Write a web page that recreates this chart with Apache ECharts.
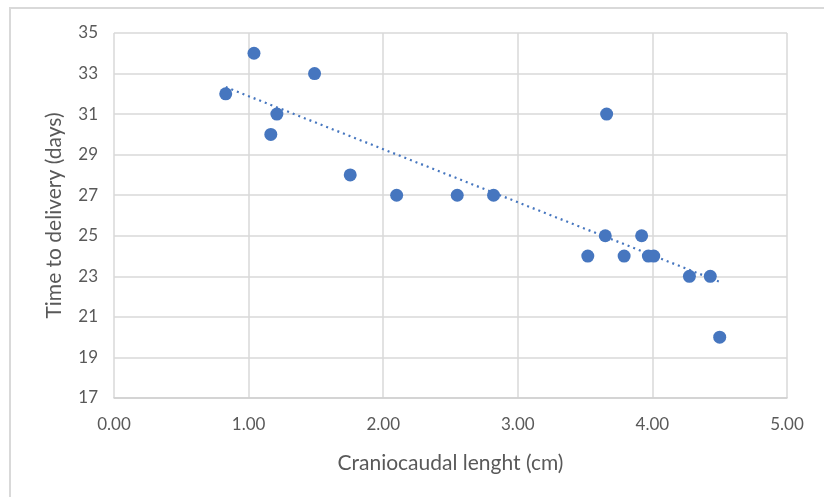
<!DOCTYPE html>
<html>
<head>
<meta charset="utf-8">
<script src="https://cdn.jsdelivr.net/npm/echarts@6/dist/echarts.min.js"></script>
<style>
html,body{margin:0;padding:0;background:#fff;}
#chart{width:824px;height:497px;}
</style>
</head>
<body>
<div id="chart"></div>
<script>
// Data
const lengthCm = [0.83, 1.04, 1.49, 1.21, 1.165, 1.755, 2.10, 2.55, 2.82, 3.66, 3.65, 3.52, 3.79, 3.92, 3.97, 4.01, 4.275, 4.43, 4.50];
const daysToDelivery = [32, 34, 33, 31, 30, 28, 27, 27, 27, 31, 25, 24, 24, 25, 24, 24, 23, 23, 20];
// Linear trendline endpoints
const trendX = [0.83, 4.50];
const trendY = [32.33, 22.73];

const xTitle = 'Craniocaudal lenght (cm)';
const yTitle = 'Time to delivery (days)';

const points = lengthCm.map((x, i) => [x, daysToDelivery[i]]);
const trend = trendX.map((x, i) => [x, trendY[i]]);

const FONT = 'Lato, "Open Sans", sans-serif';
const BLUE = '#4676BF';
const chart = echarts.init(document.getElementById('chart'));
chart.setOption({
  animation: false,
  backgroundColor: '#fff',
  graphic: [{
    type: 'rect',
    shape: {x: 10, y: 8, width: 830, height: 500},
    style: {fill: 'none', stroke: '#d9d9d9', lineWidth: 2},
    silent: true, z: -10
  }],
  grid: {left: 114, right: 37, top: 33, bottom: 99, containLabel: false},
  xAxis: {
    type: 'value', min: 0, max: 5, interval: 1,
    name: xTitle, nameLocation: 'middle', nameGap: 55,
    nameTextStyle: {fontFamily: FONT, fontSize: 21, color: '#595959'},
    axisLine: {show: true, lineStyle: {color: '#d0d0d0', width: 1.5}},
    axisTick: {show: false},
    axisLabel: {fontFamily: FONT, fontSize: 17, color: '#595959', margin: 18,
      formatter: v => v.toFixed(2)},
    splitLine: {show: true, lineStyle: {color: '#d9d9d9', width: 1.5}}
  },
  yAxis: {
    type: 'value', min: 17, max: 35, interval: 2,
    name: yTitle, nameLocation: 'middle', nameGap: 49,
    nameTextStyle: {fontFamily: FONT, fontSize: 21, color: '#595959'},
    axisLine: {show: false},
    axisTick: {show: false},
    axisLabel: {fontFamily: FONT, fontSize: 17, color: '#595959', margin: 16},
    splitLine: {show: true, lineStyle: {color: '#d9d9d9', width: 1.5}}
  },
  series: [
    {
      type: 'line', data: trend, symbol: 'none', silent: true,
      lineStyle: {color: BLUE, width: 2.2, type: [2, 4]}, z: 2
    },
    {
      type: 'scatter', data: points, symbol: 'circle', symbolSize: 13,
      itemStyle: {color: BLUE, opacity: 1}, z: 3
    }
  ]
});
</script>
</body>
</html>
